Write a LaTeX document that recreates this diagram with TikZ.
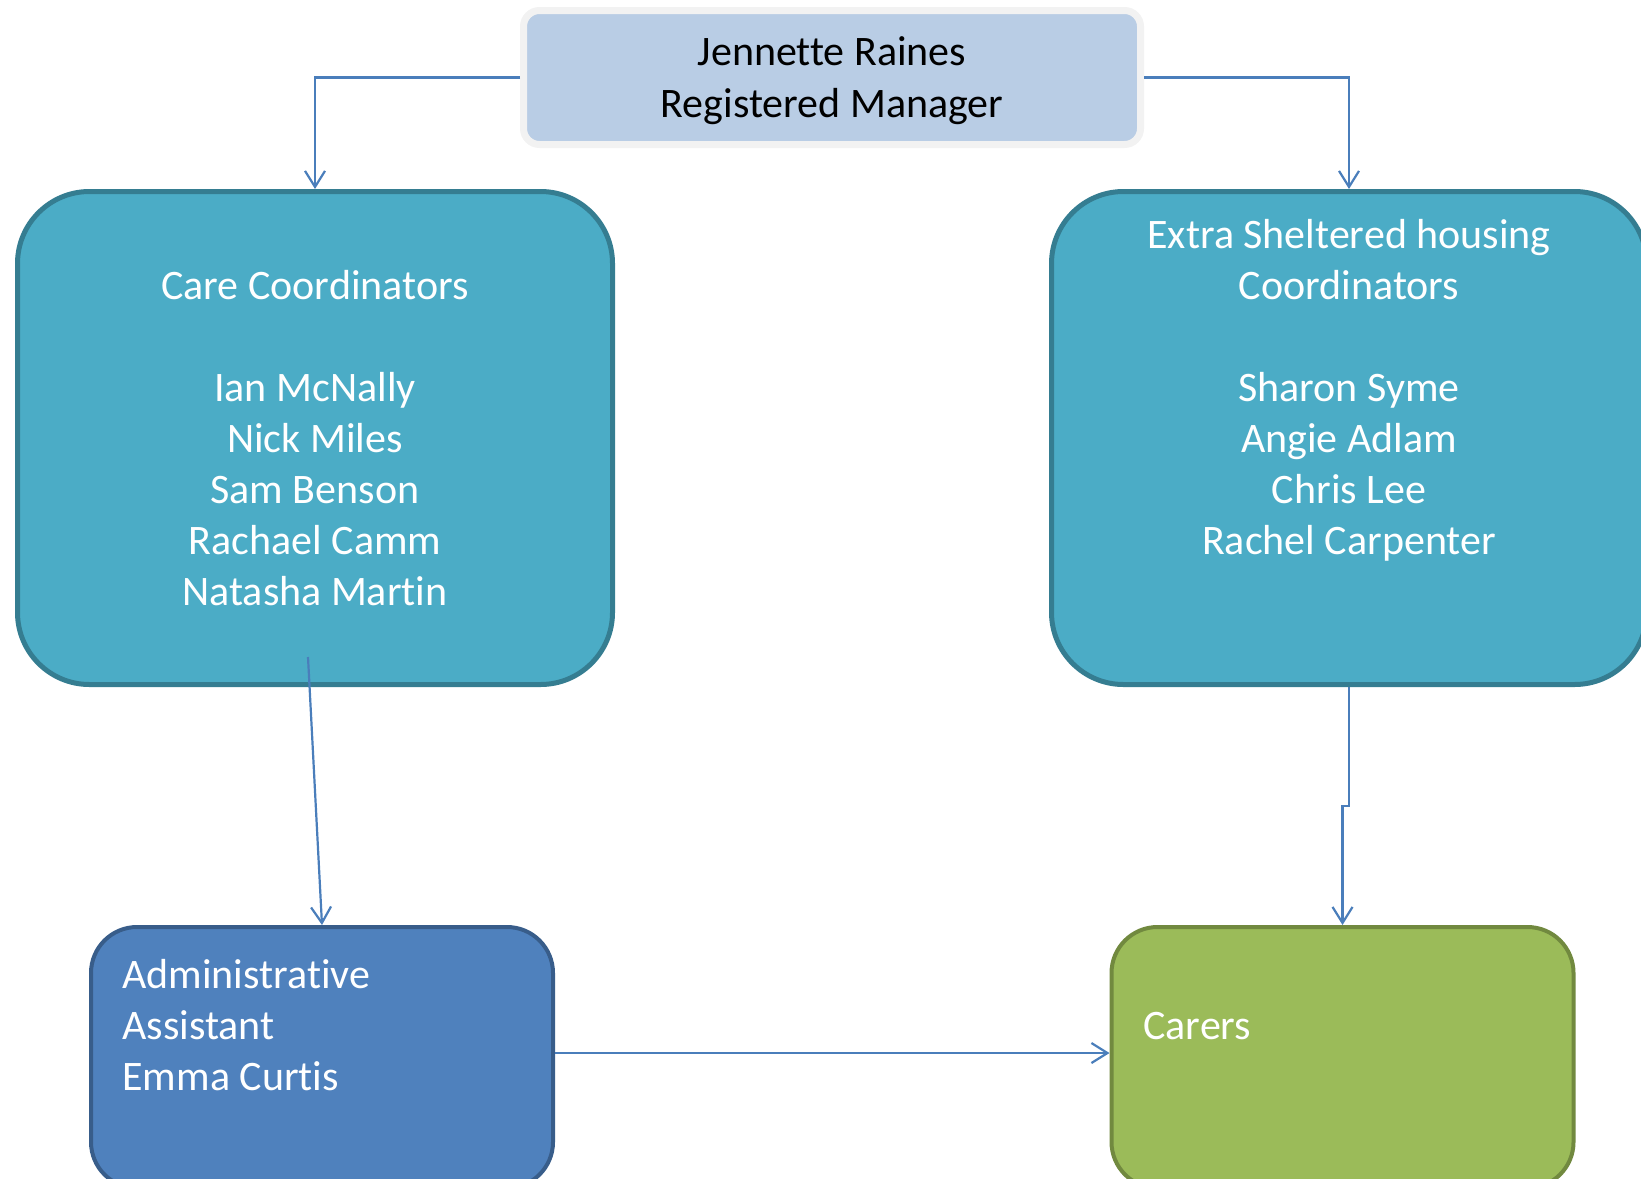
\documentclass[tikz,border=0pt]{standalone}
\usepackage{fontspec}
\setmainfont[Ligatures=NoCommon]{Carlito}
\usetikzlibrary{arrows.meta}
\definecolor{mgrfill}{HTML}{B9CDE5}
\definecolor{mgrline}{HTML}{F2F2F2}
\definecolor{tealfill}{HTML}{4BACC6}
\definecolor{tealline}{HTML}{357D91}
\definecolor{bluefill}{HTML}{4F81BD}
\definecolor{blueline}{HTML}{385D8A}
\definecolor{greenfill}{HTML}{9BBB59}
\definecolor{greenline}{HTML}{71893F}
\definecolor{linkblue}{HTML}{4A7EBB}

\begin{document}
\begin{tikzpicture}[x=0.5pt,y=-0.5pt,
    every node/.style={font=\fontsize{21pt}{25.5pt}\selectfont},
    box/.style={draw,line width=2.5pt,text=white,align=center,inner sep=0pt},
    bigbox/.style={box,fill=tealfill,draw=tealline,rounded corners=36pt,
        minimum width=297.5pt,minimum height=246.5pt},
    lowbox/.style={box,line width=2pt,rounded corners=23pt,
        minimum width=231pt,minimum height=130.5pt},
    boxtext/.style={text=white,align=left,inner sep=0pt,anchor=west},
    conn/.style={linkblue,line width=1.1pt,-{Straight Barb[length=8pt,width=10pt]}}]
    \useasboundingbox (0,0) rectangle (1641,1178);
    \clip (0,0) rectangle (1641,1178);

    \node[box,fill=mgrfill,draw=mgrline,line width=3.5pt,text=black,rounded corners=8pt,
        minimum width=308.5pt,minimum height=67pt,text depth=0pt,
        font=\fontsize{21pt}{26pt}\selectfont] (mgr) at (832,77.5)
        {Jennette Raines\\Registered Manager};

    \node[bigbox] (care) at (315,438)
        {Care Coordinators\\ \mbox{}\\ Ian McNally\\Nick Miles\\Sam Benson\\Rachael Camm\\Natasha Martin};
    \node[bigbox] (esh) at (1349,438)
        {Extra Sheltered housing\\Coordinators\\ \mbox{}\\ Sharon Syme\\Angie Adlam\\Chris Lee\\Rachel Carpenter\\ \mbox{}\\ \mbox{}};

    \node[lowbox,fill=bluefill,draw=blueline] (admin) at (322,1057.5) {};
    \node[lowbox,fill=greenfill,draw=greenline] (carers) at (1342.5,1057.5) {};
    \node[boxtext] (admintext) at (122,1025) {Administrative\\Assistant\\Emma Curtis};
    \node[boxtext] (carerstext) at (1143,1026) {Carers};

    \coordinate (carefoot) at (308,657);

    \draw[conn] (mgr.west) -| (care.north);
    \draw[conn] (mgr.east) -| (esh.north);
    \draw[conn] (carefoot) -- (admin.north);
    \draw[conn] (esh.south) -- ++(0,119) -| (carers.north);
    \draw[conn] ([yshift=2.25pt]admin.east) -- ([yshift=2.25pt]carers.west);
\end{tikzpicture}
\end{document}
